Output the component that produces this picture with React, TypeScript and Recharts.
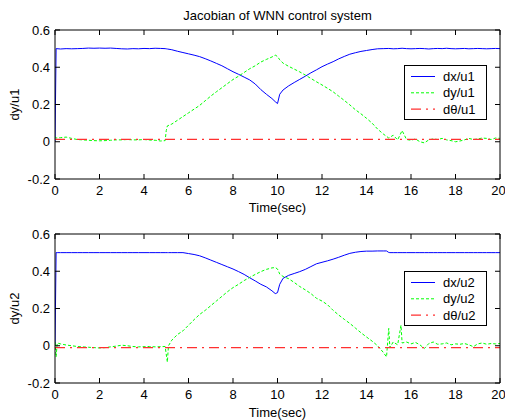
import React from "react";
import { LineChart, Line, XAxis, YAxis, Legend } from "recharts";

// time samples (sec) for the u1 panel
const timeU1 = [
  0, 0.05, 0.25, 0.5, 0.75, 1, 1.25, 1.5, 1.75, 2,
  2.25, 2.5, 2.75, 3, 3.25, 3.5, 3.75, 4, 4.25, 4.5,
  4.75, 4.95, 5, 5.05, 5.25, 5.5, 5.75, 6, 6.25, 6.5,
  6.75, 7, 7.25, 7.5, 7.75, 8, 8.25, 8.5, 8.75, 9,
  9.25, 9.5, 9.75, 9.9, 10, 10.1, 10.25, 10.5, 10.75, 11,
  11.25, 11.5, 11.75, 12, 12.25, 12.5, 12.75, 13, 13.25, 13.5,
  13.75, 14, 14.25, 14.5, 14.75, 15, 15.2, 15.4, 15.6, 15.8,
  16, 16.2, 16.4, 16.6, 16.8, 17, 17.2, 17.4, 17.6, 17.8,
  18, 18.2, 18.4, 18.6, 18.8, 19, 19.2, 19.4, 19.6, 19.8,
  20,
];
const dxU1 = [
  0, 0.5, 0.498, 0.5, 0.499, 0.5, 0.501, 0.503, 0.502, 0.503,
  0.502, 0.503, 0.501, 0.499, 0.498, 0.5, 0.499, 0.501, 0.5, 0.502,
  0.501, 0.5, 0.499, 0.498, 0.494, 0.486, 0.479, 0.472, 0.465, 0.457,
  0.446, 0.434, 0.421, 0.408, 0.392, 0.376, 0.362, 0.347, 0.332, 0.31,
  0.28, 0.255, 0.232, 0.215, 0.205, 0.255, 0.278, 0.3, 0.318, 0.335,
  0.352, 0.37, 0.386, 0.403, 0.417, 0.43, 0.445, 0.458, 0.47, 0.478,
  0.485, 0.49, 0.495, 0.499, 0.5, 0.501, 0.499, 0.5, 0.502, 0.5,
  0.499, 0.5, 0.501, 0.5, 0.498, 0.5, 0.501, 0.5, 0.502, 0.5,
  0.499, 0.5, 0.501, 0.499, 0.5, 0.501, 0.5, 0.499, 0.5, 0.501,
  0.5,
];
const dyU1 = [
  0.028, 0.02, 0.022, 0.025, 0.018, 0.012, 0.01, 0.008, 0.006, 0.005,
  0.006, 0.008, 0.01, 0.01, 0.012, 0.01, 0.01, 0.012, 0.009, 0.008,
  0.004, 0.006, 0.06, 0.085, 0.095, 0.115, 0.135, 0.155, 0.175, 0.195,
  0.22, 0.245, 0.268, 0.29, 0.312, 0.334, 0.352, 0.372, 0.392, 0.408,
  0.428, 0.442, 0.455, 0.465, 0.458, 0.44, 0.422, 0.405, 0.39, 0.375,
  0.358, 0.34, 0.322, 0.305, 0.287, 0.268, 0.245, 0.222, 0.198, 0.172,
  0.15, 0.126, 0.1, 0.068, 0.042, 0.02, 0.035, 0.01, 0.06, 0.012,
  0.008, 0.015, 0, -0.006, 0.01, 0.015, 0.012, 0.018, 0.01, 0.006,
  0, 0.004, 0.01, 0.018, 0.012, 0.015, 0.02, 0.018, 0.012, 0.02,
  0.018,
];

// time samples (sec) for the u2 panel
const timeU2 = [
  0, 0.05, 0.1, 0.25, 0.5, 0.75, 1, 1.25, 1.5, 1.75,
  2, 2.25, 2.5, 2.75, 3, 3.25, 3.5, 3.75, 4, 4.25,
  4.5, 4.75, 4.95, 5.05, 5.1, 5.25, 5.5, 5.75, 6, 6.25,
  6.5, 6.75, 7, 7.25, 7.5, 7.75, 8, 8.25, 8.5, 8.75,
  9, 9.25, 9.5, 9.75, 9.9, 10, 10.1, 10.25, 10.5, 10.75,
  11, 11.25, 11.5, 11.75, 12, 12.25, 12.5, 12.75, 13, 13.25,
  13.5, 13.75, 14, 14.25, 14.5, 14.75, 14.9, 15, 15.05, 15.2,
  15.4, 15.55, 15.6, 15.8, 16, 16.2, 16.4, 16.6, 16.8, 17,
  17.2, 17.4, 17.6, 17.8, 18, 18.2, 18.4, 18.6, 18.8, 19,
  19.2, 19.4, 19.6, 19.8, 20,
];
const dxU2 = [
  0, 0.5, 0.5, 0.5, 0.5, 0.5, 0.5, 0.5, 0.5, 0.5,
  0.5, 0.5, 0.5, 0.5, 0.5, 0.5, 0.5, 0.5, 0.5, 0.5,
  0.5, 0.5, 0.5, 0.5, 0.5, 0.5, 0.5, 0.5, 0.495, 0.49,
  0.483, 0.472, 0.46, 0.448, 0.436, 0.424, 0.412, 0.398, 0.383, 0.365,
  0.348, 0.33, 0.316, 0.295, 0.28, 0.285, 0.33, 0.362, 0.378, 0.388,
  0.398, 0.41, 0.425, 0.44, 0.448, 0.456, 0.465, 0.475, 0.486, 0.496,
  0.502, 0.506, 0.508, 0.508, 0.509, 0.509, 0.509, 0.501, 0.5, 0.5,
  0.5, 0.5, 0.5, 0.5, 0.5, 0.5, 0.5, 0.5, 0.5, 0.5,
  0.5, 0.5, 0.5, 0.5, 0.5, 0.5, 0.5, 0.5, 0.5, 0.5,
  0.5, 0.5, 0.5, 0.5, 0.5,
];
const dyU2 = [
  0.02, -0.06, 0.015, 0.01, 0.004, 0, -0.004, -0.006, -0.008, -0.01,
  -0.012, -0.01, -0.006, -0.002, 0.003, 0, -0.004, -0.006, -0.005, -0.004,
  -0.006, -0.005, -0.004, -0.088, 0, 0.03, 0.06, 0.08, 0.11, 0.14,
  0.168, 0.19, 0.215, 0.24, 0.265, 0.29, 0.312, 0.33, 0.35, 0.367,
  0.383, 0.398, 0.41, 0.418, 0.42, 0.412, 0.385, 0.372, 0.36, 0.34,
  0.318, 0.3, 0.28, 0.255, 0.24, 0.22, 0.19, 0.165, 0.142, 0.12,
  0.095, 0.07, 0.047, 0.025, 0, -0.035, -0.06, 0.093, -0.01, 0.02,
  0.005, 0.11, 0.015, 0.02, 0.01, 0.018, 0.005, -0.015, 0.012, 0.02,
  0.008, 0.01, 0.015, 0.005, 0.01, 0.008, 0.012, 0.005, -0.005, 0.01,
  0.015, 0.008, 0.012, 0.01, 0.012,
];

// dθ is flat over the whole run
const thetaTime = [0, 20];
const dThetaU1 = [0.013, 0.013];
const dThetaU2 = [-0.01, -0.01];

const xTicks = [0, 2, 4, 6, 8, 10, 12, 14, 16, 18, 20];
const yTicks = [-0.2, 0, 0.2, 0.4, 0.6];

const FONT = "'Liberation Sans', Arial, Helvetica, sans-serif";
const BLUE = "#0000ff";
const GREEN = "#00ff00";
const RED = "#ff3030";
const RED_DASH = "10 5 2 5";

type Pt = { t: number; v: number };
type Series = { name: string; data: Pt[]; color: string; dash?: string; width: number };

const toPoints = (ts: number[], vs: number[]): Pt[] => ts.map((t, i) => ({ t, v: vs[i] }));

const seriesU1: Series[] = [
  { name: "dx/u1", data: toPoints(timeU1, dxU1), color: BLUE, width: 1 },
  { name: "dy/u1", data: toPoints(timeU1, dyU1), color: GREEN, dash: "3 2", width: 1 },
  { name: "dθ/u1", data: toPoints(thetaTime, dThetaU1), color: RED, dash: RED_DASH, width: 1.4 },
];
const seriesU2: Series[] = [
  { name: "dx/u2", data: toPoints(timeU2, dxU2), color: BLUE, width: 1 },
  { name: "dy/u2", data: toPoints(timeU2, dyU2), color: GREEN, dash: "3 2", width: 1 },
  { name: "dθ/u2", data: toPoints(thetaTime, dThetaU2), color: RED, dash: RED_DASH, width: 1.4 },
];

const tickFont = { fontSize: 13, fill: "#000", fontFamily: FONT };

function LegendBox({ series }: { series: Series[] }) {
  return (
    <svg width={84} height={56} style={{ display: "block" }}>
      <rect x={0.5} y={0.5} width={82} height={54} fill="#fff" stroke="#000" />
      {series.map((s, i) => {
        const cy = 11.5 + i * 16.3;
        return (
          <g key={s.name}>
            <line
              x1={7}
              x2={31}
              y1={cy}
              y2={cy}
              stroke={s.color}
              strokeWidth={s.width}
              strokeDasharray={s.dash}
            />
            <text x={39} y={cy + 4.5} fontSize={13} fontFamily={FONT} fill="#000">
              {s.name}
            </text>
          </g>
        );
      })}
    </svg>
  );
}

type PanelProps = {
  series: Series[];
  yLabel: string;
  title?: string;
  height: number;
  marginTop: number;
  bottomHeight: number;
  xLabelOffset: number;
  legendTop: number;
};

function Panel({ series, yLabel, title, height, marginTop, bottomHeight, xLabelOffset, legendTop }: PanelProps) {
  return (
    <LineChart width={505} height={height} margin={{ top: marginTop, right: 4, bottom: 1, left: 5 }}>
      <XAxis
        xAxisId="b"
        dataKey="t"
        type="number"
        domain={[0, 20]}
        ticks={xTicks}
        allowDataOverflow
        height={bottomHeight}
        stroke="#000"
        tickSize={-5}
        tickMargin={12}
        tick={tickFont}
        label={{ value: "Time(sec)", position: "insideBottom", offset: xLabelOffset, ...tickFont }}
      />
      <XAxis
        xAxisId="t"
        orientation="top"
        dataKey="t"
        type="number"
        domain={[0, 20]}
        ticks={xTicks}
        allowDataOverflow
        height={1}
        stroke="#000"
        tickSize={-5}
        tickFormatter={() => ""}
        label={title ? { value: title, position: "top", offset: 9.5, ...tickFont } : undefined}
      />
      <YAxis
        yAxisId="l"
        type="number"
        domain={[-0.2, 0.6]}
        ticks={yTicks}
        allowDataOverflow
        width={50}
        stroke="#000"
        tickSize={-5}
        tickMargin={10}
        tick={tickFont}
        label={{
          value: yLabel,
          angle: -90,
          position: "insideLeft",
          offset: 9.5,
          ...tickFont,
          style: { textAnchor: "middle" },
        }}
      />
      <YAxis
        yAxisId="r"
        orientation="right"
        type="number"
        domain={[-0.2, 0.6]}
        ticks={yTicks}
        allowDataOverflow
        width={1}
        stroke="#000"
        tickSize={-5}
        tickFormatter={() => ""}
      />
      <Legend
        layout="vertical"
        align="center"
        verticalAlign="middle"
        wrapperStyle={{ position: "absolute", left: 404, top: legendTop, width: 84, height: 56 }}
        content={() => <LegendBox series={series} />}
      />
      {series.map((s) => (
        <Line
          key={s.name}
          xAxisId="b"
          yAxisId="l"
          data={s.data}
          dataKey="v"
          name={s.name}
          type="linear"
          stroke={s.color}
          strokeWidth={s.width}
          strokeDasharray={s.dash}
          dot={false}
          activeDot={false}
          isAnimationActive={false}
        />
      ))}
    </LineChart>
  );
}

export default function App() {
  return (
    <div style={{ position: "absolute", left: 0, top: 0, width: 505, height: 420, background: "#fff" }}>
      <div style={{ position: "absolute", left: 0, top: 0 }}>
        <Panel
          series={seriesU1}
          yLabel="dy/u1"
          title="Jacobian of WNN control system"
          height={218}
          marginTop={29}
          bottomHeight={38}
          xLabelOffset={5.5}
          legendTop={65}
        />
      </div>
      <div style={{ position: "absolute", left: 0, top: 210 }}>
        <Panel
          series={seriesU2}
          yLabel="dy/u2"
          height={210}
          marginTop={23}
          bottomHeight={36}
          xLabelOffset={2.5}
          legendTop={61}
        />
      </div>
    </div>
  );
}
